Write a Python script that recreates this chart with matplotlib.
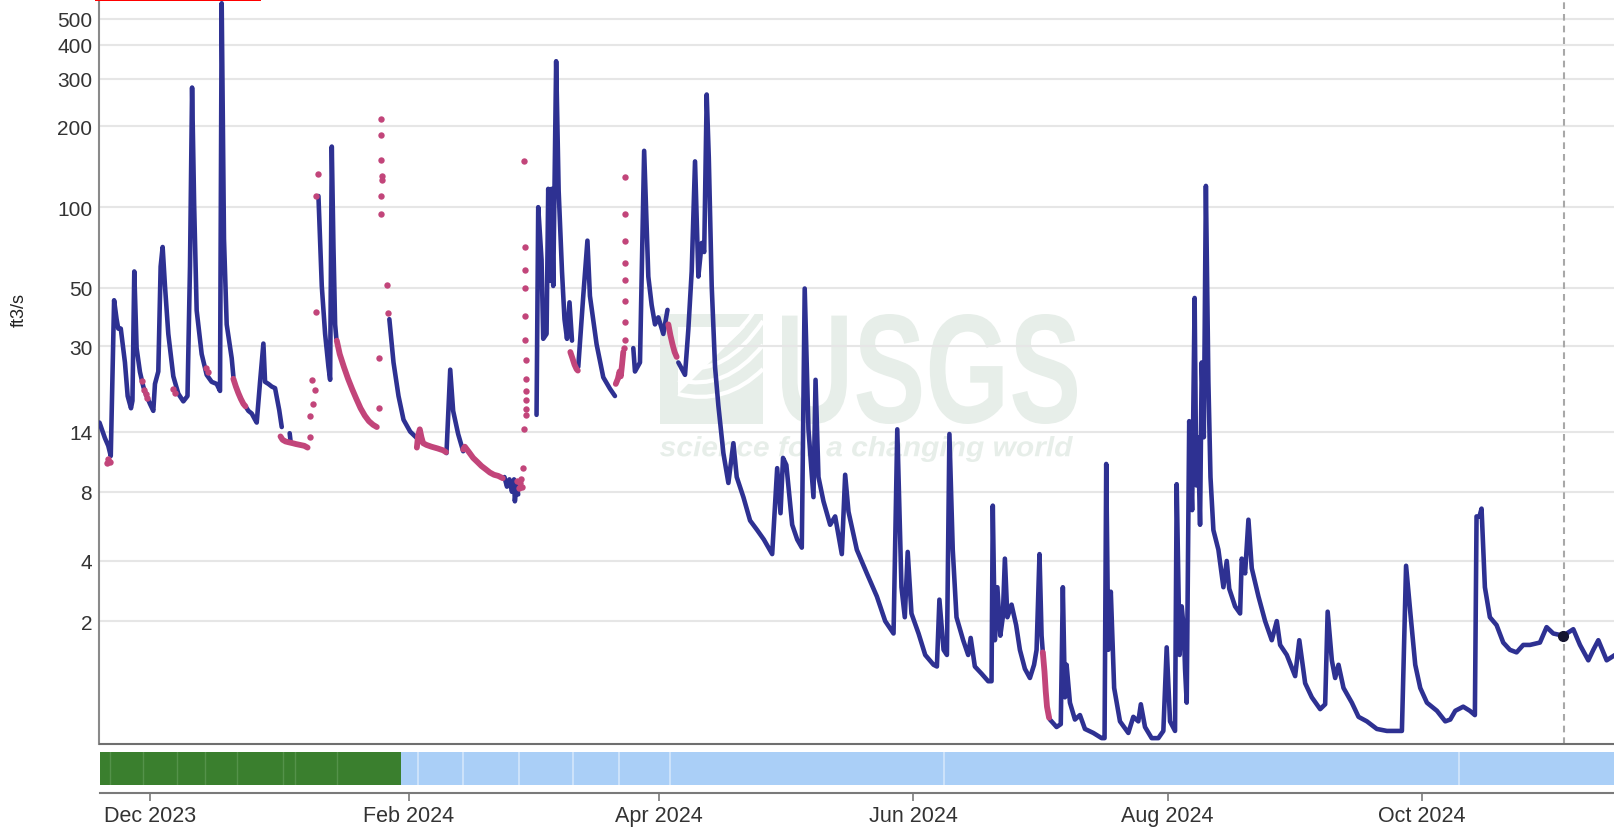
import numpy as np
import pandas as pd
import matplotlib
matplotlib.use("Agg")
import matplotlib.pyplot as plt
import matplotlib.dates as mdates
from matplotlib.textpath import TextPath
from matplotlib.patches import PathPatch, Rectangle, Polygon
from matplotlib.font_manager import FontProperties
from matplotlib.transforms import Affine2D, IdentityTransform
from matplotlib.path import Path

plt.rcParams['font.family'] = ['Liberation Sans', 'DejaVu Sans']

# ---------------- data (days after 2023-12-01, discharge ft3/s) ----------------
START = pd.Timestamp('2023-12-01')
NaN = np.nan

blue_day = [-12.1, -10.8, -10.0, -9.4, -8.6, -8.0, -7.6, -7.0, -6.0, -5.35, -4.55, -4.2, -3.76, -3.2,
            -2.4, -1.6, -0.8, 0, 0.8, 1.2, 2.0, 2.56, 3.04, 3.6, 4.4, 5.6, 6.8, 8.0, 9.0, 9.6, 10.1,
            10.6, 11.2, 12.4, 13.6, 14.8, 16.0, 16.8, 17.2, 17.75, 18.4, 19.6, 20.0, 21.5,
            23.0, 23.6, 24.4, 25.2, 25.6, 26.4, 27.2, 27.6, 28.4, 29.2, 30.0, 31.0, 31.6, 32.5,
            33.5, 33.7, 37.0,
            40.4, 41.2, 42.0, 42.8, 43.2, 43.6, 44.0, 44.4, 44.7, 50.0,
            57.4, 58.4, 59.6, 60.8, 62.4, 64.0, 67.0,
            71.1, 72.0, 72.7, 73.9, 75.1, 80.0,
            85.0, 85.6, 86.2, 86.8, 87.3, 87.5, 87.9, 88.3, 90.0,
            92.7, 93.1, 93.9, 94.3, 95.1, 95.5, 95.9, 96.3, 96.7, 97.4, 98.0, 98.8, 99.4, 100.0,
            100.6, 101.2, 102.0,
            102.7, 103.9, 104.9, 105.5, 107.1, 108.7, 110.3, 111.5, 113.0,
            115.9, 116.3, 117.5, 118.5, 119.5, 120.3, 121.1, 121.9, 123.1, 124.1, 125.0,
            126.7, 128.3, 129.1, 129.9, 130.7, 131.5, 132.3, 132.9, 133.5, 134.0, 134.7, 135.5,
            136.3, 137.5, 138.7, 139.9, 140.7, 142.3, 143.9, 145.6, 147.2, 149.2, 150.0, 150.4,
            151.2, 151.8, 152.6, 154.0, 155.2, 156.3, 157.0, 157.9, 159.1, 159.6, 160.3, 161.5,
            163.1, 164.3, 165.9, 166.7, 167.5, 169.5, 171.9, 174.3, 176.3, 178.3, 179.2, 180.2,
            181.0, 181.7, 182.6, 184.3, 185.9, 187.9, 188.7, 189.3, 190.3, 191.1, 191.7, 192.5,
            193.4, 195.0, 196.2, 196.8, 197.8, 199.4, 201.0, 201.8, 202.1, 202.6, 203.2, 203.9,
            204.5, 205.0, 205.6, 206.6, 207.7, 208.6, 209.8, 211.0, 212.0, 212.6, 213.3, 213.8,
            214.1, 214.9,
            215.6, 215.8, 217.4, 218.4, 218.9, 219.4, 219.8, 220.6, 221.8, 223.0, 224.2, 226.2,
            228.2, 228.9, 229.3, 229.8, 230.4, 231.2, 232.6, 234.6, 235.8, 237.0, 237.6, 238.6,
            240.2, 241.8, 243.0, 243.8, 244.6, 245.8, 246.2, 246.9, 247.4, 247.9, 248.2, 248.6,
            249.2, 249.9, 250.5, 250.9, 251.3, 251.8, 252.2, 252.7, 253.2, 253.8, 254.3, 255.0,
            256.2, 257.4, 258.2, 258.8, 260.2, 261.4, 261.8, 262.6, 263.4, 264.2, 265.8, 267.4,
            269.0, 270.2, 271.0, 272.6, 274.6, 275.6, 277.0, 278.6, 280.6, 281.8, 282.4, 283.4,
            284.2, 285.0, 286.2, 288.2, 289.8, 291.8, 294.2, 296.6, 300.2, 301.2, 302.2, 303.4,
            304.6, 306.2, 308.6, 310.6, 311.8, 313.0, 314.9, 316.5, 317.7, 318.1, 318.8, 319.3,
            320.1, 321.3, 322.9, 324.5, 326.1, 327.7, 329.3, 330.9, 333.3, 334.9, 336.5, 338.9,
            341.3, 342.9, 344.9, 346.1, 347.3, 349.3, 351.3]

blue_val = [15.2, 13.2, 12.3, 11.2, 44.8, 38, 35, 35, 26, 19.3, 17.3, 18.5, 57.5, 29.5,
            23.9, 21, 19.3, 18, 16.9, 21.5, 24, 60, 71, 50.7, 33.4, 23, 19.7, 18.4, 19.3, 60, 278,
            101, 41, 28, 23.3, 21.9, 21.5, 20.2, 570, 76, 36.3, 27, 23, NaN,
            17.5, 16.9, 16.5, 15.6, 15.2, 21.9, 30.7, 21.9, 21.5, 21, 20.7, 17, 14.6, NaN,
            13.8, 12.9, NaN,
            110, 50.7, 33.4, 25, 22.3, 168, 71, 36.3, 32, NaN,
            38, 26, 19.3, 15.6, 14.0, 13.2, NaN,
            11.5, 24.4, 16.9, 13.7, 11.7, NaN,
            9.2, 8.4, 9.0, 8.0, 9.0, 7.3, 8.5, 7.8, NaN,
            16.3, 100, 63.5, 32, 33.4, 117, 53, 117, 50.7, 348, 115, 57.5, 38, 32,
            44, 31.5, NaN,
            25, 46.5, 75, 46.5, 30.5, 22.8, 20.6, 19.3, NaN,
            29.5, 24, 26, 162, 55, 43, 36.3, 38.6, 33.4, 41.2, NaN,
            26, 23.3, 34.8, 57.5, 148, 55, 73.5, 68, 262, 153, 50.7, 25,
            17.7, 11.5, 8.7, 12.6, 9.2, 7.6, 6.05, 5.5, 5.0, 4.3, 7.6, 10.0,
            6.5, 11, 10.3, 5.8, 5.0, 4.6, 49.6, 14.3, 7.6, 22.3, 9.2, 7.3,
            5.8, 6.3, 4.3, 9.4, 6.6, 4.5, 3.5, 2.7, 2.0, 1.7, 14.3, 3.0,
            2.1, 4.4, 2.2, 1.7, 1.25, 1.07, 1.04, 2.6, 1.35, 1.25, 13.7, 4.5,
            2.1, 1.55, 1.25, 1.6, 1.04, 0.92, 0.8, 0.8, 7.0, 1.55, 3.0, 1.65,
            2.1, 4.1, 2.1, 2.45, 1.9, 1.35, 1.0, 0.85, 1.07, 1.35, 4.3, 1.65,
            1.3, NaN,
            0.32, 0.3, 0.22, 0.25, 3.0, 0.57, 1.07, 0.5, 0.3, 0.35, 0.2, 0.16,
            0.11, 0.11, 10.4, 1.35, 2.85, 0.7, 0.28, 0.16, 0.33, 0.28, 0.48, 0.22,
            0.11, 0.11, 0.18, 1.4, 0.28, 0.18, 8.6, 1.25, 2.4, 1.8, 1.0, 0.5,
            15.4, 6.7, 45.7, 8.5, 13.3, 5.8, 26, 13.3, 120, 21.9, 9.2, 5.5,
            4.5, 3.0, 4.0, 2.95, 2.4, 2.2, 4.1, 3.5, 6.1, 3.7, 2.7, 2.0,
            1.55, 2.0, 1.45, 1.25, 0.88, 1.55, 0.77, 0.57, 0.42, 0.48, 2.25, 1.15,
            0.85, 1.07, 0.7, 0.5, 0.33, 0.28, 0.2, 0.18, 0.18, 3.8, 2.25, 1.07,
            0.7, 0.5, 0.4, 0.28, 0.3, 0.4, 0.45, 0.4, 0.35, 6.3, 6.3, 6.8,
            3.0, 2.1, 1.9, 1.5, 1.35, 1.3, 1.45, 1.45, 1.5, 1.85, 1.7, 1.65,
            1.8, 1.45, 1.15, 1.35, 1.55, 1.15, 1.25]

# estimated / revised values drawn as dense pink traces (NaN separates runs)
red_line_day = [20.0, 20.6, 21.2, 21.8, 22.4, 22.9, 23.0,
                31.3, 31.8, 32.5, 33.3, 34.2, 35.0, 36.0, 37.0, 37.8, 38.0,
                44.8, 45.5, 46.5, 47.5, 48.5, 49.5, 50.5, 51.5, 52.5, 53.5, 54.4, 54.6,
                64.0, 64.3, 64.7, 65.1, 65.5, 66.3, 67.5, 69.0, 70.3, 71.0, 71.2,
                75.1, 75.5, 76.5, 77.5, 78.5, 79.5, 80.5, 81.5, 82.5, 83.5, 84.6, 84.8,
                100.8, 101.3, 101.8, 102.3, 102.6, 102.7,
                111.7, 112.2, 112.6, 112.9, 113.2, 113.5, 113.6,
                124.3, 124.8, 125.3, 125.8, 126.3, 126.5,
                214.1, 214.5, 214.8, 215.1, 215.6]
red_line_val = [22.5, 21, 19.8, 18.8, 18.0, 17.6, NaN,
                13.4, 13.0, 12.8, 12.7, 12.6, 12.5, 12.4, 12.3, 12.1, NaN,
                31.5, 28, 25, 22.5, 20.5, 18.8, 17.3, 16.2, 15.4, 14.9, 14.6, NaN,
                12.1, 13.5, 14.3, 13.3, 12.6, 12.4, 12.2, 12.0, 11.8, 11.6, NaN,
                11.9, 12.2, 11.6, 11.0, 10.6, 10.2, 9.9, 9.6, 9.4, 9.3, 9.1, NaN,
                28.5, 27, 25.5, 24.5, 24.2, NaN,
                21.5, 22.5, 24, 23, 25.5, 28.5, NaN,
                36.3, 33, 30.5, 28.5, 27.3, NaN,
                1.3, 0.95, 0.65, 0.45, 0.32]

red_dot_day = [-10.4, -10.0, -9.7, -1.9, -1.4, -1.0, -0.7, 5.6, 6.0, 13.5, 14.0,
               38.3, 38.3, 39.2, 38.8, 39.6, 39.9, 39.9, 40.3,
               55.0, 55.0, 55.3, 55.5, 55.6, 55.6, 55.5, 55.4, 55.4, 56.8, 57.0,
               88.0, 88.4, 88.8, 89.2, 89.0,
               89.5, 89.6, 90.2, 90.2, 90.2, 90.1, 90.1, 90.1, 90.0, 90.0, 90.0, 89.9, 89.9, 89.8,
               113.7, 113.8, 113.8, 113.8, 113.9, 113.9, 113.9, 113.9, 113.9]
red_dot_val = [10.5, 10.9, 10.6, 22.0, 20.3, 19.6, 19.0, 20.5, 19.8, 24.8, 24.0,
               13.3, 16.1, 18.0, 22.2, 20.4, 40.3, 110, 133,
               27, 17.3, 94, 110, 126, 131, 150, 185, 213, 51, 40,
               8.9, 8.3, 8.7, 8.4, 9.0,
               10.0, 14.4, 16.3, 17.2, 18.6, 20.1, 22.4, 26.6, 31.7, 39, 50, 58, 71, 149,
               29.5, 31.7, 37, 44.5, 53.5, 62, 75, 94.5, 130]

marker_day = [338.9]
marker_val = [1.65]
vline_day = 339.0

# approval status bar: green = approved, blue = provisional
approved_end_day = 60.3
approved_breaks = [-9.6, -1.6, 6.4, 13.3, 20.9, 31.9, 34.7, 44.8]
provisional_breaks = [64.2, 75.0, 88.6, 101.4, 112.4, 124.7, 190.5, 313.8]

xlim_days = (-12.1, 351.3)
ylim_vals = (0.056, 591)
yticks = [2, 4, 8, 14, 30, 50, 100, 200, 300, 400, 500]
ylabel = 'ft3/s'


def to_dates(days):
    return mdates.date2num(START + pd.to_timedelta(np.asarray(days, dtype=float), unit='D'))


# ---------------- figure ----------------
W, H = 1615, 829
fig = plt.figure(figsize=(W / 100, H / 100), dpi=100)

ax = fig.add_axes([99.5 / W, (H - 745) / H, (W - 99.5) / W, 745 / H])
ax.patch.set_visible(False)
fwd = lambda y: np.log10(np.clip(y, -0.99, None) + 1)
inv = lambda y: 10 ** y - 1
ax.set_yscale('function', functions=(fwd, inv))
ax.set_xlim(to_dates(xlim_days[0]), to_dates(xlim_days[1]))
ax.set_ylim(*ylim_vals)
ax.set_yticks(yticks)
ax.set_yticklabels([str(t) for t in yticks])
ax.yaxis.set_minor_locator(matplotlib.ticker.NullLocator())
ax.tick_params(axis='y', length=0, pad=5.3, labelsize=15, labelcolor='#333333')
ax.tick_params(axis='x', bottom=False, labelbottom=False)
ax.grid(axis='y', color='#e6e6e6', lw=1.5, zorder=0)
ax.set_axisbelow(True)
for s in ['top', 'right']:
    ax.spines[s].set_visible(False)
ax.spines['left'].set_color('#8a8a8a')
ax.spines['left'].set_linewidth(1.5)
ax.spines['bottom'].set_color('#6f6f6f')
ax.spines['bottom'].set_linewidth(1.5)

# watermark (USGS), drawn beneath the transparent axes
wm_color = '#e7eee9'


def fitted_text(s, fp, x0, x1, ytop, ybot):
    tp = TextPath((0, 0), s, size=100, prop=fp)
    ext = tp.get_extents()
    tr = (Affine2D().translate(-ext.x0, -ext.y0)
          .scale((x1 - x0) / ext.width, (ybot - ytop) / ext.height)
          .translate(x0, H - ybot))
    p = PathPatch(tr.transform_path(tp), facecolor=wm_color, edgecolor='none',
                  transform=IdentityTransform(), zorder=-2)
    fig.add_artist(p)


fitted_text('USGS', FontProperties(family='Liberation Sans', weight='bold'), 782, 1077, 315, 425)
fitted_text('science for a changing world',
            FontProperties(family='Liberation Sans', weight='bold', style='italic'), 660, 1073, 437, 463)
# stylised logo mark: block with sweeping white waves
fig.add_artist(Rectangle((660, H - 425), 103, 110, facecolor=wm_color, edgecolor='none',
                         transform=IdentityTransform(), zorder=-2))
fig.add_artist(Polygon([(678, H - 328), (745, H - 328), (678, H - 395)], closed=True,
                       facecolor='white', edgecolor='none', transform=IdentityTransform(),
                       zorder=-1.8))
for k in range(4):
    yb = H - 415 + k * 14
    verts = [(678, yb + 20), (725, yb + 8), (763, yb + 45 + k * 10)]
    path = Path(verts, [Path.MOVETO, Path.CURVE3, Path.CURVE3])
    fig.add_artist(PathPatch(path, facecolor='none', edgecolor='white', lw=3.0,
                             transform=IdentityTransform(), zorder=-1.5))

# data
ax.plot(to_dates(blue_day), blue_val, color='#2e3192', lw=3.3, solid_joinstyle='round',
        solid_capstyle='round', zorder=3)
ax.plot(to_dates(red_line_day), red_line_val, color='#c2457a', lw=4.2, solid_capstyle='round',
        solid_joinstyle='round', zorder=4)
ax.plot(to_dates(red_dot_day), red_dot_val, 'o', color='#c2457a', ms=4.6, mew=0, zorder=4)
ax.axvline(to_dates(vline_day), color='#a8a8a8', lw=1.5, ls=(0, (3.2, 2.4)), zorder=2)
ax.plot(to_dates(marker_day), marker_val, 'o', color='#151530', ms=7, zorder=5)

# approval bar + date axis
bx = fig.add_axes([99.5 / W, (H - 786) / H, (W - 99.5) / W, 33 / H])
bx.set_xlim(ax.get_xlim())
bx.set_ylim(0, 1)
bx.axvspan(to_dates(xlim_days[0]), to_dates(approved_end_day), color='#3a7f2e', lw=0)
bx.axvspan(to_dates(approved_end_day), to_dates(xlim_days[1]), color='#aacff7', lw=0)
for d in approved_breaks:
    bx.axvline(to_dates(d), color='#54924a', lw=1.0)
for d in provisional_breaks:
    bx.axvline(to_dates(d), color='#d4e6fb', lw=1.2)
for s in ['top', 'right', 'left']:
    bx.spines[s].set_visible(False)
bx.spines['bottom'].set_position(('outward', 5.8))
bx.spines['bottom'].set_color('#7a7a7a')
bx.spines['bottom'].set_linewidth(1.5)
bx.set_yticks([])
bx.xaxis.set_major_locator(mdates.MonthLocator(bymonth=[12, 2, 4, 6, 8, 10]))
bx.xaxis.set_major_formatter(mdates.DateFormatter('%b %Y'))
bx.tick_params(axis='x', length=5.8, width=1.2, color='#7a7a7a', pad=3, labelsize=15.5,
               labelcolor='#333333')

# y label
fig.text(19 / W, 1 - 310 / H, ylabel, rotation=90, ha='center', va='center', fontsize=13,
         color='#222222')

# red highlight strip at top edge
fig.add_artist(Rectangle((95 / W, 1 - 2.0 / H), (261 - 95) / W, 2.0 / H, transform=fig.transFigure,
                         facecolor='#ff0000', edgecolor='none', zorder=10))

fig.savefig('out.png', dpi=100)
